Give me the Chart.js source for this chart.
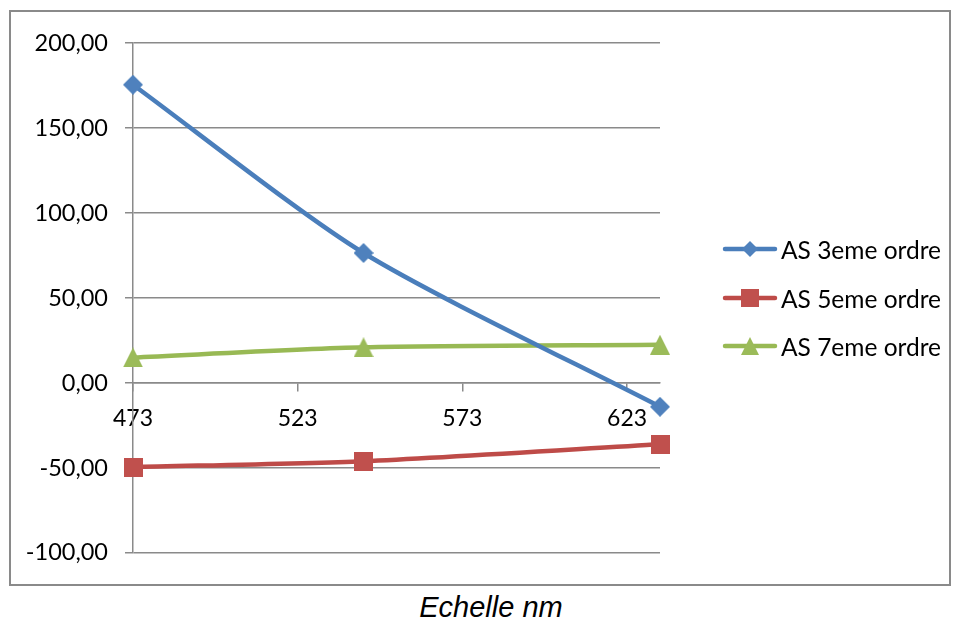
<!DOCTYPE html>
<html>
<head>
<meta charset="utf-8">
<script src="https://cdn.jsdelivr.net/npm/chart.js@4.4.1/dist/chart.umd.min.js"></script>
<style>
  html, body { margin: 0; padding: 0; background: #fff; width: 955px; height: 623px; overflow: hidden; }
  #frame { position: absolute; left: 9px; top: 10px; width: 938px; height: 572px; border: 2px solid #8a8a8a; }
  #plot { display: block; }
  .legend-row { position: absolute; left: 722px; height: 30px; display: flex; align-items: center;
                font: 24.5px Lato, sans-serif; color: #000; white-space: nowrap; }
  .legend-row canvas { display: block; margin-right: 3px; }
  #xtitle { position: absolute; left: 20px; width: 942px; top: 593px; text-align: center;
            font: italic 29px/29px "Liberation Sans", Arial, sans-serif; color: #000; }
</style>
</head>
<body>
<div id="frame"><canvas id="plot" width="938" height="572"></canvas></div>
<div id="legend"></div>
<div id="xtitle">Echelle nm</div>
<script>
// Wavelengths (nm) and aberration values for each order
const wavelengths = [473, 543, 633];
const xTickValues = [473, 523, 573, 623];
const as3 = [175.5, 76.5, -14];
const as5 = [-49.5, -46, -36];
const as7 = [15, 21, 22.5];
const seriesNames = ['AS 3eme ordre', 'AS 5eme ordre', 'AS 7eme ordre'];

const FONT = 'Lato, sans-serif';
const GRID = '#8a8a8a';
const lineColors = ['#4a7ebb', '#be4b48', '#98b954'];
const markerColors = ['#4f81bd', '#c0504d', '#9bbb59'];
const markerShapes = ['diamond', 'square', 'triangle'];

// Excel-like marker shapes drawn into small canvases
function shapePath(g, shape, cx, cy, s) {
  const h = s / 2;
  g.beginPath();
  if (shape === 'diamond') {
    g.moveTo(cx, cy - h); g.lineTo(cx + h, cy); g.lineTo(cx, cy + h); g.lineTo(cx - h, cy);
  } else if (shape === 'square') {
    g.rect(cx - h, cy - h, s, s);
  } else {
    g.moveTo(cx, cy - h); g.lineTo(cx + h, cy + h); g.lineTo(cx - h, cy + h);
  }
  g.closePath();
}

function markerImage(shape, color, size) {
  const c = document.createElement('canvas');
  c.width = size; c.height = size;
  const g = c.getContext('2d');
  g.fillStyle = color;
  shapePath(g, shape, size / 2, size / 2, size);
  g.fill();
  return c;
}

function legendSwatch(shape, lineColor, color, size) {
  const c = document.createElement('canvas');
  c.width = 56; c.height = 22;
  const g = c.getContext('2d');
  g.strokeStyle = lineColor; g.lineWidth = 4.5; g.lineCap = 'round';
  g.beginPath(); g.moveTo(3, 11); g.lineTo(53, 11); g.stroke();
  g.fillStyle = color;
  shapePath(g, shape, 28, 11, size);
  g.fill();
  return c;
}

const markerSizes = [20, 19, 20];
const seriesValues = [as3, as5, as7];

const datasets = seriesValues.map((vals, i) => ({
  label: seriesNames[i],
  data: wavelengths.map((x, k) => ({ x: x, y: vals[k] })),
  borderColor: lineColors[i],
  backgroundColor: markerColors[i],
  borderWidth: 4.5,
  pointStyle: markerImage(markerShapes[i], markerColors[i], markerSizes[i]),
  pointRadius: 10,
  tension: 0.25,
  clip: false
}));

// Legend: line + marker swatch followed by the series name
const legendEl = document.getElementById('legend');
const legendCenters = [249, 298, 346];
seriesNames.forEach((name, i) => {
  const row = document.createElement('div');
  row.className = 'legend-row';
  row.style.top = (legendCenters[i] - 15) + 'px';
  row.appendChild(legendSwatch(markerShapes[i], lineColors[i], markerColors[i], [16, 18, 18][i]));
  const span = document.createElement('span');
  span.textContent = name;
  row.appendChild(span);
  legendEl.appendChild(row);
});

new Chart(document.getElementById('plot'), {
  type: 'line',
  data: { datasets: datasets },
  options: {
    responsive: false,
    animation: false,
    events: [],
    layout: { padding: { top: 22, bottom: 22, left: 0, right: 289 } },
    scales: {
      x: {
        type: 'linear',
        position: { y: 0 },
        min: 473,
        max: 633,
        afterBuildTicks: (s) => { s.ticks = xTickValues.map(v => ({ value: v })); },
        grid: { drawOnChartArea: false, drawTicks: true, tickLength: 8, color: GRID, lineWidth: 1.5 },
        border: { display: true, color: GRID, width: 1.5 },
        ticks: { padding: 14, color: '#000', font: { family: FONT, size: 23 }, maxRotation: 0, autoSkip: false,
                 callback: (v) => String(v) }
      },
      y: {
        min: -100,
        max: 200,
        afterFit: (s) => { s.width = 122; },
        grid: { color: GRID, lineWidth: 1.5, tickLength: 8, drawTicks: true },
        border: { display: true, color: GRID, width: 1.5 },
        ticks: { stepSize: 50, padding: 17, color: '#000', font: { family: FONT, size: 23.5 },
                 callback: (v) => v.toFixed(2).replace('.', ',') }
      }
    },
    plugins: {
      legend: { display: false },
      tooltip: { enabled: false }
    }
  }
});
</script>
</body>
</html>
